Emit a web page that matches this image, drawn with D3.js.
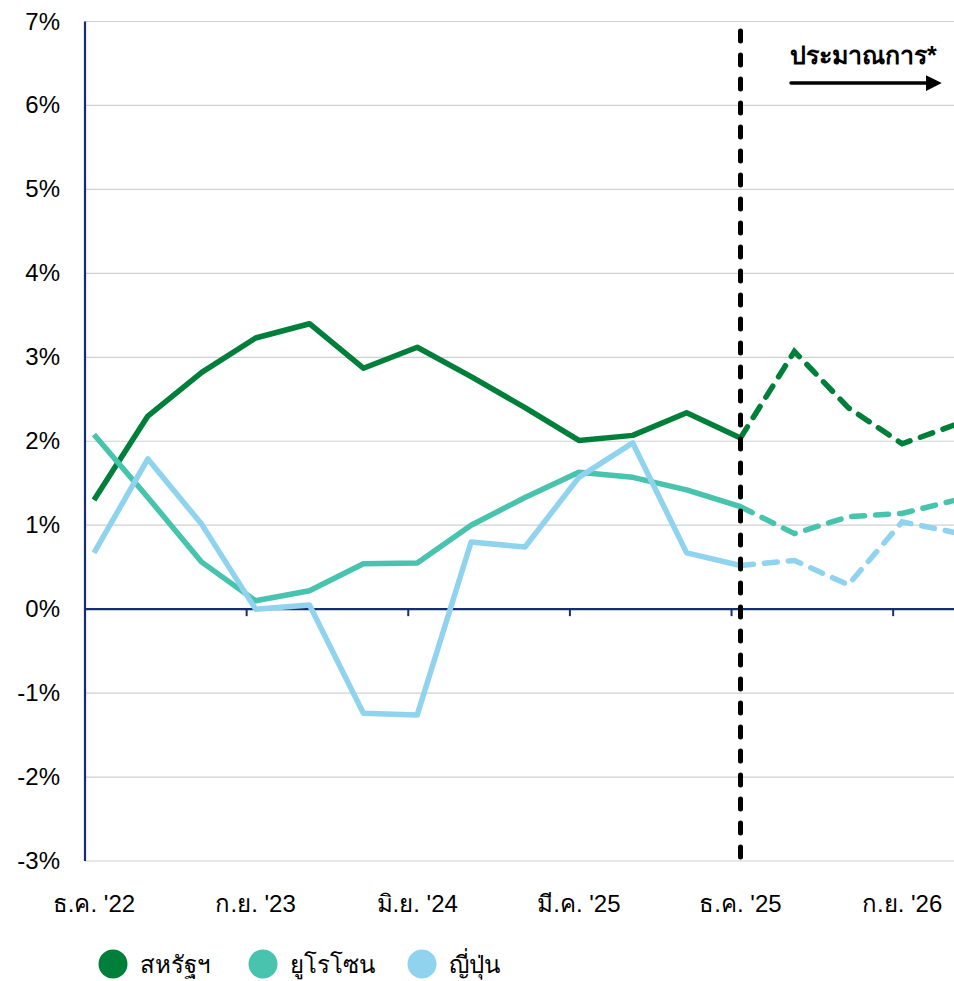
<!DOCTYPE html>
<html>
    <head>
        <meta charset='utf-8'>
        <script src="https://d3js.org/d3.v7.min.js"></script>
        <style>
            body { margin: 0; background: #fff; }
            text { font-family: "Liberation Sans", Arial, sans-serif; fill: #000; }
            .grid line { stroke: #d0d0d0; stroke-width: 1.2; }
        </style>
    </head>
    <body>
        <script>

            var width = 954, height = 981;

            // monthly categories Dec '22 .. Dec '26, data every quarter
            var months = d3.range(49);
            var quarters = [0, 3, 6, 9, 12, 15, 18, 21, 24, 27, 30, 33, 36, 39, 42, 45, 48];
            var tickLabels = ["ธ.ค. '22", "ก.ย. '23", "มิ.ย. '24", "มี.ค. '25", "ธ.ค. '25", "ก.ย. '26"];
            var forecastStart = 36;   // ธ.ค. '25

            var us   = [1.30, 2.30, 2.82, 3.23, 3.40, 2.87, 3.12, 2.77, 2.40, 2.01, 2.07, 2.34, 2.04, 3.07, 2.40, 1.97, 2.20];
            var euro = [2.08, 1.33, 0.56, 0.10, 0.22, 0.54, 0.55, 1.00, 1.33, 1.63, 1.57, 1.42, 1.22, 0.90, 1.10, 1.14, 1.30];
            var japan = [0.67, 1.79, 1.01, 0.00, 0.05, -1.24, -1.26, 0.80, 0.74, 1.57, 1.98, 0.67, 0.52, 0.58, 0.29, 1.04, 0.91];

            var seriesNames = ["สหรัฐฯ", "ยูโรโซน", "ญี่ปุ่น"];
            var seriesColors = ["#007f3a", "#48c3ae", "#8fd3ef"];
            var yTicks = [-3, -2, -1, 0, 1, 2, 3, 4, 5, 6, 7];

            var svg = d3.select('body')
                .append('svg')
                .attr('width', width)
                .attr('height', height);

            var x = d3.scaleBand()
                .domain(months)
                .range([85, 965])
                .paddingInner(0)
                .paddingOuter(0);

            var y = d3.scaleLinear()
                .domain([-3, 7])
                .range([861, 21.5]);

            function px(m) { return x(m) + x.bandwidth() / 2; }

            // gridlines
            svg.append("g").attr("class", "grid")
                .selectAll("line")
                .data(yTicks)
                .enter().append("line")
                .attr("x1", 85).attr("x2", width)
                .attr("y1", function(d) { return y(d); })
                .attr("y2", function(d) { return y(d); });

            // y labels
            svg.append("g")
                .selectAll("text")
                .data(yTicks)
                .enter().append("text")
                .attr("x", 60)
                .attr("y", function(d) { return y(d) + 8; })
                .attr("text-anchor", "end")
                .style("font-size", "24px")
                .text(function(d) { return d + "%"; });

            // left axis
            svg.append("line")
                .attr("x1", 85).attr("x2", 85)
                .attr("y1", y(7)).attr("y2", y(-3))
                .attr("stroke", "#142f6b").attr("stroke-width", 2.2);

            // zero line with ticks
            svg.append("line")
                .attr("x1", 85).attr("x2", width)
                .attr("y1", y(0)).attr("y2", y(0))
                .attr("stroke", "#142f6b").attr("stroke-width", 2.2);

            var tickMonths = [0, 9, 18, 27, 36, 45];
            svg.append("g")
                .selectAll("line")
                .data(tickMonths)
                .enter().append("line")
                .attr("x1", function(d) { return x(d); })
                .attr("x2", function(d) { return x(d); })
                .attr("y1", y(0)).attr("y2", y(0) + 7)
                .attr("stroke", "#142f6b").attr("stroke-width", 2);

            // x labels
            svg.append("g")
                .selectAll("text")
                .data(tickMonths)
                .enter().append("text")
                .attr("x", function(d) { return px(d); })
                .attr("y", 912)
                .attr("text-anchor", "middle")
                .style("font-size", "24px")
                .text(function(d, i) { return tickLabels[i]; });

            // lines
            var line = d3.line()
                .x(function(d) { return px(d.m); })
                .y(function(d) { return y(d.v); });

            [us, euro, japan].forEach(function(vals, si) {
                var pts = vals.map(function(v, i) { return { m: quarters[i], v: v }; });
                var actual = pts.filter(function(d) { return d.m <= forecastStart; });
                var fc = pts.filter(function(d) { return d.m >= forecastStart; });
                svg.append("path")
                    .attr("d", line(actual))
                    .attr("fill", "none")
                    .attr("stroke", seriesColors[si])
                    .attr("stroke-width", 5.5)
                    .attr("stroke-linejoin", "round");
                svg.append("path")
                    .attr("d", line(fc))
                    .attr("fill", "none")
                    .attr("stroke", seriesColors[si])
                    .attr("stroke-width", 5.5)
                    .attr("stroke-linecap", "round")
                    .attr("stroke-dasharray", "13,11");
            });

            // forecast divider
            svg.append("line")
                .attr("x1", px(forecastStart)).attr("x2", px(forecastStart))
                .attr("y1", 31).attr("y2", 857)
                .attr("stroke", "#000")
                .attr("stroke-width", 5)
                .attr("stroke-linecap", "round")
                .attr("stroke-dasharray", "10,14");

            svg.append("text")
                .attr("x", 790).attr("y", 64)
                .style("font-size", "25px")
                .style("font-weight", "bold")
                .text("ประมาณการ*");

            svg.append("defs").append("marker")
                .attr("id", "arrow")
                .attr("viewBox", "0 0 10 10")
                .attr("refX", 0).attr("refY", 5)
                .attr("markerWidth", 4.5).attr("markerHeight", 4.5)
                .attr("orient", "auto")
                .append("path")
                .attr("d", "M0,0L10,5L0,10z")
                .attr("fill", "#000");

            svg.append("line")
                .attr("x1", 791).attr("x2", 926)
                .attr("y1", 83).attr("y2", 83)
                .attr("stroke", "#000")
                .attr("stroke-width", 3.5)
                .attr("stroke-linecap", "round")
                .attr("marker-end", "url(#arrow)");

            // legend
            var legendX = [113, 263, 422];
            var legend = svg.append("g")
                .selectAll("g")
                .data(seriesNames)
                .enter().append("g")
                .attr("transform", function(d, i) { return "translate(" + legendX[i] + ",964)"; });

            legend.append("circle")
                .attr("r", 14.5)
                .attr("fill", function(d, i) { return seriesColors[i]; });

            legend.append("text")
                .attr("x", 27)
                .attr("y", 9)
                .style("font-size", "24px")
                .text(function(d) { return d; });

        </script>
    </body>
</html>
